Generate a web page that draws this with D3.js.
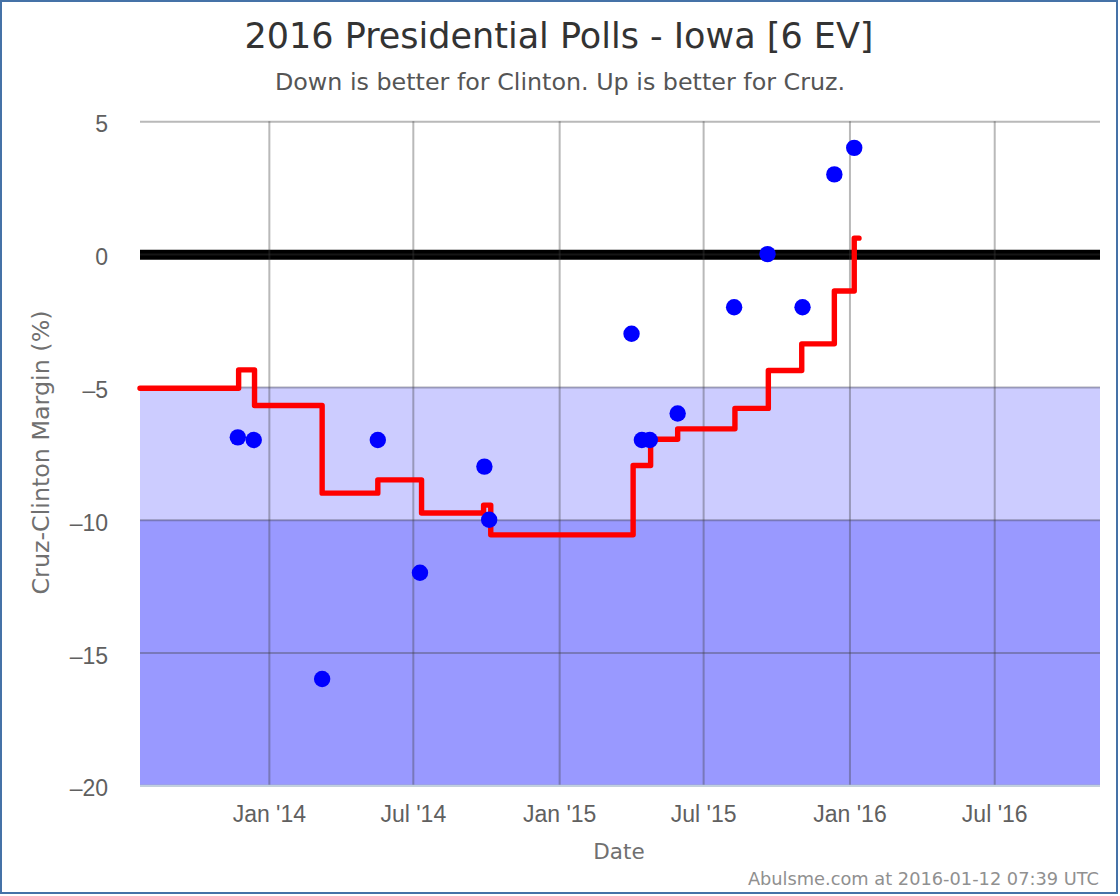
<!DOCTYPE html>
<html>
<head>
<meta charset="utf-8">
<script src="https://cdn.jsdelivr.net/npm/d3@7"></script>
<style>
html, body { margin: 0; padding: 0; background: #fff; }
svg { display: block; font-family: "DejaVu Sans", sans-serif; }
</style>
</head>
<body>
<div id="chart"></div>
<script>
// polls
var pollDates = ["2013-11-23", "2013-12-13", "2014-03-09", "2014-05-18", "2014-07-10", "2014-09-29", "2014-10-05",
    "2015-04-02", "2015-04-15", "2015-04-25", "2015-05-30", "2015-08-09", "2015-09-20", "2015-11-03", "2015-12-13", "2016-01-07"];
var pollMargins = [-6.9, -7, -16, -7, -12, -8, -10, -3, -7, -7, -6, -2, 0, -2, 3, 4];

// running average, one value per step
var avgDates = ["2013-07-23", "2013-11-24", "2013-12-14", "2014-03-09", "2014-05-18", "2014-07-12", "2014-09-28", "2014-10-07",
    "2015-04-04", "2015-04-26", "2015-05-30", "2015-08-10", "2015-09-21", "2015-11-02", "2015-12-13", "2016-01-07", "2016-01-13"];
var avgMargins = [-5.05, -4.36, -5.7, -9.0, -8.5, -9.75, -9.45, -10.57, -7.96, -6.97, -6.58, -5.81, -4.38, -3.38, -1.39, 0.6, 0.6];

var bandEdges = [[-5, -10, "#ccccff"], [-10, -20, "#9999ff"]];
var yTicks = [5, 0, -5, -10, -15, -20];
var xTickDates = ["2014-01-01", "2014-07-01", "2015-01-01", "2015-07-01", "2016-01-01", "2016-07-01"];
var xTickLabels = ["Jan '14", "Jul '14", "Jan '15", "Jul '15", "Jan '16", "Jul '16"];

var titleText = "2016 Presidential Polls - Iowa [6 EV]";
var subtitleText = "Down is better for Clinton. Up is better for Cruz.";
var yLabel = "Cruz-Clinton Margin (%)";
var xLabel = "Date";
var creditText = "Abulsme.com at 2016-01-12 07:39 UTC";

var parseDate = d3.utcParse("%Y-%m-%d");

var x = d3.scaleUtc()
    .domain([parseDate("2013-07-23"), parseDate("2016-11-11")])
    .range([140, 1100]);
var y = d3.scaleLinear()
    .domain([5, -20])
    .range([121.3, 785.3]);

var svg = d3.select("#chart").append("svg")
    .attr("width", 1120)
    .attr("height", 896);

// outer frame
svg.append("rect")
    .attr("x", 1).attr("y", 1)
    .attr("width", 1116).attr("height", 892)
    .attr("fill", "#fff")
    .attr("stroke", "#4572a7")
    .attr("stroke-width", 2);

svg.append("text").text(titleText)
    .attr("x", 559).attr("y", 48)
    .attr("text-anchor", "middle")
    .attr("font-size", 35)
    .attr("fill", "#333");
svg.append("text").text(subtitleText)
    .attr("x", 560).attr("y", 90)
    .attr("text-anchor", "middle")
    .attr("font-size", 23.8)
    .attr("fill", "#555");

// bands
svg.selectAll("rect.band")
    .data(bandEdges)
    .enter().append("rect")
    .attr("class", "band")
    .attr("x", x.range()[0])
    .attr("width", x.range()[1] - x.range()[0])
    .attr("y", function (d) { return y(d[0]); })
    .attr("height", function (d) { return y(d[1]) - y(d[0]); })
    .attr("fill", function (d) { return d[2]; });

// zero line sits under the grid
svg.append("line")
    .attr("x1", x.range()[0]).attr("x2", x.range()[1])
    .attr("y1", y(0) + 0.7).attr("y2", y(0) + 0.7)
    .attr("stroke", "#000")
    .attr("stroke-width", 10);

var yAxis = d3.axisLeft(y)
    .tickValues(yTicks)
    .tickSize(-(x.range()[1] - x.range()[0]))
    .tickPadding(32)
    .tickFormat(function (d) { return d < 0 ? "\u2013" + Math.abs(d) : d; });
var yG = svg.append("g")
    .attr("transform", "translate(" + x.range()[0] + ",0)")
    .call(yAxis);

var xAxis = d3.axisBottom(x)
    .tickValues(xTickDates.map(parseDate))
    .tickSize(-(y.range()[1] - y.range()[0]))
    .tickPadding(20.5)
    .tickFormat(function (d, i) { return xTickLabels[i]; });
var xG = svg.append("g")
    .attr("transform", "translate(0," + y.range()[1] + ")")
    .call(xAxis);

[yG, xG].forEach(function (g) {
    g.select(".domain").remove();
    g.selectAll(".tick line")
        .attr("stroke", "rgb(60,60,60)")
        .attr("stroke-opacity", 0.36)
        .attr("stroke-width", 2);
    g.selectAll(".tick text")
        .attr("font-size", 23)
        .attr("fill", "#606060");
});
yG.selectAll(".tick text").attr("dy", "0.46em");

// axis line along the bottom
svg.append("line")
    .attr("x1", x.range()[0]).attr("x2", x.range()[1])
    .attr("y1", y(-20) + 0.5).attr("y2", y(-20) + 0.5)
    .attr("stroke", "#c0d0e0")
    .attr("stroke-width", 2);

svg.append("text").text(yLabel)
    .attr("transform", "translate(49,452.5) rotate(-90)")
    .attr("text-anchor", "middle")
    .attr("font-size", 23.8)
    .attr("fill", "#707070");
svg.append("text").text(xLabel)
    .attr("x", 619).attr("y", 859)
    .attr("text-anchor", "middle")
    .attr("font-size", 21.5)
    .attr("fill", "#707070");
svg.append("text").text(creditText)
    .attr("x", 1099).attr("y", 885)
    .attr("text-anchor", "end")
    .attr("font-size", 17.8)
    .attr("fill", "#909090");

// average line
var avgLine = d3.line()
    .x(function (d) { return x(parseDate(d[0])); })
    .y(function (d) { return y(d[1]); })
    .curve(d3.curveStepAfter);
svg.append("path")
    .datum(d3.zip(avgDates, avgMargins))
    .attr("d", avgLine)
    .attr("fill", "none")
    .attr("stroke", "#ff0000")
    .attr("stroke-width", 5.4)
    .attr("stroke-linejoin", "round")
    .attr("stroke-linecap", "round");

// poll dots
svg.selectAll("circle.poll")
    .data(d3.zip(pollDates, pollMargins))
    .enter().append("circle")
    .attr("class", "poll")
    .attr("cx", function (d) { return x(parseDate(d[0])); })
    .attr("cy", function (d) { return y(d[1]); })
    .attr("r", 8.2)
    .attr("fill", "#0000ff");
</script>
</body>
</html>
